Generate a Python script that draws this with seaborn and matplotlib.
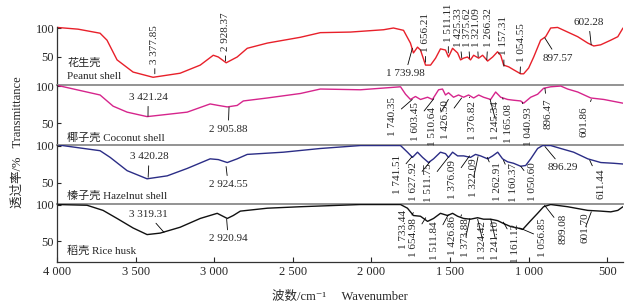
import matplotlib
matplotlib.use("Agg")
import matplotlib.pyplot as plt
import seaborn as sns
import pandas as pd

# FTIR spectra of four shells
# wavenumber (cm-1) and transmittance (%)
peanut_wn = [4000, 3866, 3726, 3682, 3618, 3516, 3389, 3217, 3089, 3006, 2974, 2924, 2854, 2790, 2662, 2452, 2325,
             2134, 1923, 1860, 1796, 1752, 1733, 1707, 1688, 1656, 1624, 1592, 1561, 1529, 1510, 1484, 1452,
             1433, 1414, 1389, 1370, 1350, 1318, 1293, 1261, 1229, 1198, 1178, 1159, 1127, 1096, 1051, 1032,
             1000, 968, 924, 892, 860, 816, 752, 688, 624, 586, 542, 478, 433, 400]
peanut_t = [101, 98, 91, 79, 45, 24, 15, 22, 36, 53, 50, 40, 50, 65, 74, 84, 92,
            93, 97, 100, 96, 74, 57, 67, 62, 36, 36, 48, 64, 62, 50, 65, 57,
            45, 48, 50, 45, 53, 48, 53, 43, 50, 59, 53, 36, 33, 28, 21, 21,
            31, 50, 79, 85, 100, 101, 93, 85, 74, 69, 71, 79, 85, 100]

coconut_wn = [4000, 3726, 3643, 3554, 3427, 3299, 3172, 3026, 2974, 2917, 2854, 2815, 2662, 2452, 2325, 2070,
              1815, 1783, 1752, 1720, 1688, 1643, 1612, 1573, 1548, 1529, 1510, 1478, 1446, 1414, 1382, 1350,
              1318, 1287, 1242, 1210, 1178, 1134, 1096, 1051, 1032, 987, 943, 905, 860, 796, 752, 688, 605, 522, 400]
coconut_t = [101, 88, 73, 65, 59, 62, 65, 76, 74, 72, 74, 80, 84, 90, 96, 95,
             99, 89, 82, 86, 82, 85, 82, 95, 96, 88, 91, 85, 88, 85, 88, 84,
             88, 85, 82, 92, 85, 82, 81, 80, 77, 85, 89, 97, 99, 100, 96, 92, 84, 82, 77]

hazel_wn = [4000, 3726, 3662, 3554, 3427, 3299, 3172, 3026, 2974, 2917, 2854, 2790, 2560, 2325, 2070, 1815,
            1771, 1739, 1707, 1675, 1637, 1605, 1561, 1529, 1510, 1484, 1452, 1414, 1370, 1338, 1306, 1261,
            1229, 1197, 1166, 1134, 1096, 1051, 1019, 987, 943, 911, 860, 796, 714, 624, 541, 459, 400]
hazel_t = [101, 93, 84, 66, 55, 59, 69, 82, 81, 77, 82, 88, 91, 96, 100, 100,
           91, 84, 91, 84, 77, 82, 91, 89, 84, 91, 86, 86, 84, 88, 86, 82,
           86, 91, 82, 78, 76, 72, 73, 82, 96, 100, 100, 96, 91, 82, 77, 76, 75]

rice_wn = [4000, 3809, 3707, 3618, 3516, 3427, 3344, 3217, 3089, 2981, 2917, 2879, 2834, 2662, 2452, 2070,
           1815, 1771, 1733, 1688, 1643, 1605, 1561, 1516, 1484, 1452, 1414, 1370, 1325, 1287, 1242, 1197,
           1159, 1115, 1070, 1038, 987, 943, 905, 860, 752, 624, 541, 478, 433, 400]
rice_t = [100, 99, 92, 81, 68, 59, 61, 69, 81, 88, 81, 85, 91, 95, 97, 100,
          100, 95, 85, 84, 77, 81, 88, 85, 88, 84, 81, 80, 82, 80, 80, 78,
          74, 70, 68, 66, 78, 88, 97, 100, 97, 92, 91, 90, 92, 97]

# peak labels per spectrum
peanut_peaks = ["3 377.85", "2 928.37", "1 739.98", "1 656.21", "1 511.11", "1 425.33", "1 375.62",
                "1 321.09", "1 266.32", "1 157.31", "1 054.55", "897.57", "602.28"]
coconut_peaks = ["3 421.24", "2 905.88", "1 740.35", "1 603.45", "1 510.64", "1 426.50", "1 376.82",
                 "1 245.34", "1 165.08", "1 040.93", "896.47", "601.86"]
hazel_peaks = ["3 420.28", "2 924.55", "1 741.51", "1 627.92", "1 511.75", "1 376.09", "1 322.09",
               "1 262.91", "1 160.37", "1 050.60", "896.29", "611.44"]
rice_peaks = ["3 319.31", "2 920.94", "1 733.44", "1 654.98", "1 511.84", "1 426.86", "1 373.88",
              "1 324.42", "1 241.10", "1 161.12", "1 056.85", "899.08", "601.70"]

names_cn = ["花生壳", "椰子壳", "榛子壳", "稻壳"]
names_en = ["Peanut shell", "Coconut shell", "Hazelnut shell", "Rice husk"]
xticks = [4000, 3500, 3000, 2500, 2000, 1500, 1000, 500]
xtick_labels = ["4 000", "3 500", "3 000", "2 500", "2 000", "1 500", "1 000", "500"]

# ---- layout: label placement (text x, text y, leader tip y, rotation) ----
peanut_pos = [(3378, 38, 21, 90), (2928, 60, 43, 90), (1784, 21, 65, 0), (1656, 59, 41, 90),
              (1510, 76, 57, 90), (1446, 67, 48, 90), (1389, 67, 48, 90), (1331, 67, 50, 90),
              (1255, 67, 45, 90), (1159, 53, 34, 90), (1045, 41, 22, 90), (816, 48, 83, 0),
              (618, 110, 71, 0)]
coconut_pos = [(3420, 85, 59.5, 0), (2911, 42, 71.6, 0), (1866, 85, 82, 90), (1720, 78, 83, 90),
               (1612, 72, 82, 90), (1529, 81, 84, 90), (1357, 80, 85, 90), (1210, 80, 82, 90),
               (1128, 76, 84, 90), (1000, 72, 78, 90), (879, 84, 97, 90), (650, 73, 82, 90)]
hazel_pos = [(3414, 85, 57, 0), (2911, 47, 71.6, 0), (1835, 88, 85, 90), (1733, 77, 78, 90),
             (1637, 76, 84, 90), (1484, 80, 86, 90), (1351, 82, 85, 90), (1198, 77, 84, 90),
             (1096, 76, 80, 90), (975, 77, 72, 90), (784, 70, 98.6, 0), (542, 69, 80, 90)]
rice_pos = [(3420, 86.5, 62, 0), (2911, 53, 80, 0), (1796, 92, 89, 90), (1733, 81, 82, 90),
            (1599, 77, 86, 90), (1484, 84, 86, 90), (1401, 81, 81, 90), (1293, 78, 80, 90),
            (1210, 78, 80, 90), (1083, 73, 76, 90), (911, 81, 68, 90), (784, 88, 99, 90),
            (640, 89, 90, 90)]

sns.set_style("ticks")
plt.rcParams["font.family"] = ["Liberation Serif", "Noto Sans CJK SC", "DejaVu Sans"]

W, H = 633, 306
fig = plt.figure(figsize=(W / 100, H / 100), dpi=100)

left, right = 57, 623
bounds = [(0, 85), (85, 144.5), (144.5, 203.5), (203.5, 262)]
ylims = [(1.7, 148.3), (21.6, 101.4), (21.6, 101.4), (21.6, 101.4)]
colors = ["#e8202a", "#d6258c", "#2b2d86", "#111111"]
spectra = [(peanut_wn, peanut_t), (coconut_wn, coconut_t), (hazel_wn, hazel_t), (rice_wn, rice_t)]
peaks = [peanut_peaks, coconut_peaks, hazel_peaks, rice_peaks]
positions = [peanut_pos, coconut_pos, hazel_pos, rice_pos]
name_y = [(39.7, 15.5), 31, 32.4, 37.8]

for i in range(4):
    top, bot = bounds[i]
    ax = fig.add_axes([left / W, 1 - bot / H, (right - left) / W, (bot - top) / H])
    df = pd.DataFrame({"wn": spectra[i][0], "T": spectra[i][1]})
    sns.lineplot(data=df, x="wn", y="T", ax=ax, color=colors[i], lw=1.0)
    ax.set_xlim(4000, 400)
    ax.set_ylim(*ylims[i])
    ax.set_yticks([50, 100])
    ax.set_yticklabels(["50", "100"], fontsize=9)
    ax.set_xlabel("")
    ax.set_ylabel("")
    ax.patch.set_alpha(0)
    for s in ["top", "right"]:
        ax.spines[s].set_visible(False)
    ax.spines["left"].set_color("#333333")
    ax.spines["left"].set_linewidth(0.9)
    if i == 0:
        ax.spines["left"].set_bounds(ylims[0][0], 101)
    ax.tick_params(axis="y", direction="in", length=3, width=0.8, pad=2)
    if i < 3:
        ax.spines["bottom"].set_color("#8a8a8a")
        ax.spines["bottom"].set_linewidth(1.3)
        ax.set_xticks([])
    else:
        ax.spines["bottom"].set_color("#333333")
        ax.spines["bottom"].set_linewidth(0.9)
        ax.set_xticks(xticks)
        ax.set_xticklabels(xtick_labels, fontsize=9)
        ax.tick_params(axis="x", direction="in", length=3.5, width=0.8, pad=3)

    # sample name
    if i == 0:
        ax.text(3936, name_y[0][0], names_cn[0], fontsize=8, va="center", ha="left")
        ax.text(3936, name_y[0][1], names_en[0], fontsize=8, va="center", ha="left")
    else:
        ax.text(3936, name_y[i], names_cn[i] + " " + names_en[i], fontsize=8, va="center", ha="left")

    # peak labels with leader lines
    for lab, (tx, ty, tip, rot) in zip(peaks[i], positions[i]):
        pk = float(lab.replace(" ", ""))
        if rot == 0:
            va = "center"
        else:
            va = "bottom" if i == 0 else "top"
        ax.annotate(lab, xy=(pk, tip), xytext=(tx, ty), rotation=rot, ha="center", va=va,
                    fontsize=8, annotation_clip=False,
                    arrowprops=dict(arrowstyle="-", lw=0.6, color="black", shrinkA=1, shrinkB=0))

fig.text(340 / W, 1 - 297 / H, "波数/cm\u207b\u00b9     Wavenumber", fontsize=9, ha="center", va="center")
fig.text(18 / W, 1 - 142 / H, "透过率/%   Transmittance", fontsize=9, rotation=90, ha="center", va="center")

fig.savefig("out.png", dpi=100)
